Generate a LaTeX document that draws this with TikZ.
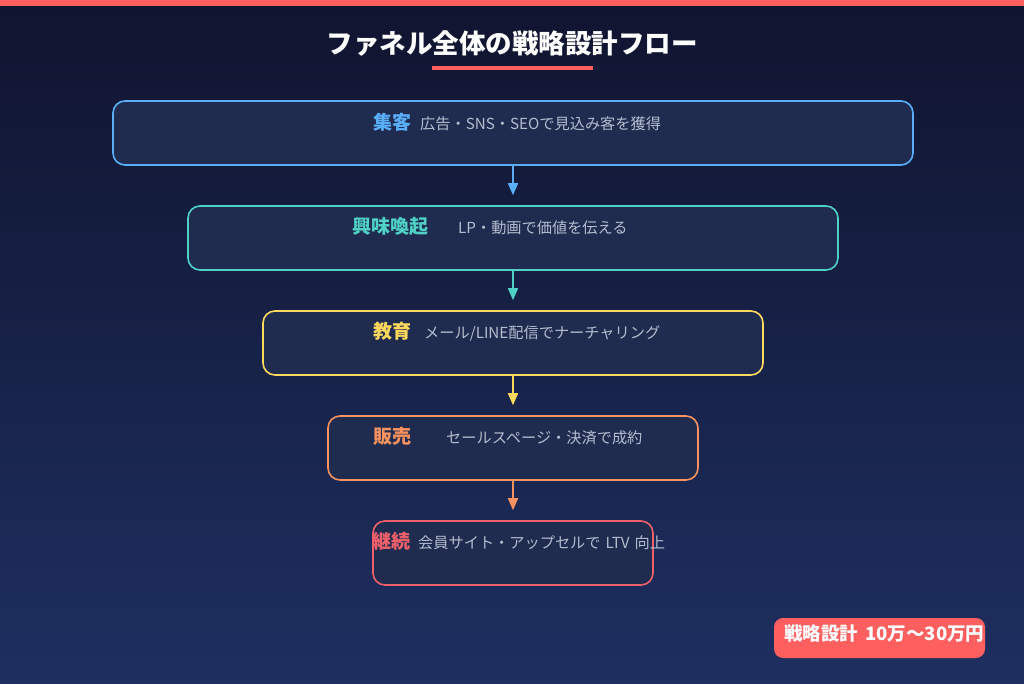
\documentclass[tikz,border=0pt]{standalone}
\usepackage{fontspec}
\setmainfont{Noto Sans CJK JP}
\usetikzlibrary{arrows.meta}
\definecolor{bgtop}{HTML}{10142F}
\definecolor{bgbot}{HTML}{1E2F60}
\definecolor{boxfill}{HTML}{1F2C4F}
\definecolor{accent}{HTML}{FF5F5F}
\definecolor{cblue}{HTML}{5AAEF8}
\definecolor{cteal}{HTML}{4FD1C5}
\definecolor{cyellow}{HTML}{FFD85E}
\definecolor{corange}{HTML}{F9925F}
\definecolor{cred}{HTML}{F0606A}
\definecolor{desc}{HTML}{B4BCCE}
\tikzset{
  stagebox/.style={draw, fill=boxfill, line width=1.6pt, rounded corners=12pt, inner sep=0pt},
  lbl/.style={anchor=west, inner sep=0pt, font=\fontsize{19}{21}\selectfont\bfseries},
  dsc/.style={anchor=west, inner sep=0pt, text=desc, font=\fontsize{15.2}{18}\selectfont},
  arr/.style={line width=1.6pt, -{Triangle[width=10pt,length=12pt]}},
}
\begin{document}
\begin{tikzpicture}[x=1pt,y=-1pt]
\useasboundingbox (0,0) rectangle (1024,683);
\fill[top color=bgtop, bottom color=bgbot] (0,0) rectangle (1024,683);
\fill[accent] (0,0) rectangle (1024,6);
% title
\node[inner sep=0pt, text=white, font=\fontsize{26.5}{30}\selectfont\bfseries] (title) at (512,44) {ファネル全体の戦略設計フロー};
\fill[accent] (432,66) rectangle (593,70);
% boxes
\node[stagebox, draw=cblue, minimum width=800pt, minimum height=64pt] (b1) at (513,133) {};
\node[stagebox, draw=cteal, minimum width=650pt, minimum height=64pt] (b2) at (513,238) {};
\node[stagebox, draw=cyellow, minimum width=500pt, minimum height=64pt] (b3) at (513,343) {};
\node[stagebox, draw=corange, minimum width=370pt, minimum height=64pt] (b4) at (513,448) {};
\node[stagebox, draw=cred, minimum width=280pt, minimum height=64pt] (b5) at (513,553) {};
% labels
\node[lbl, text=cblue] (l1) at (373,122) {集客};
\node[dsc] (d1) at (420,124) {広告・SNS・SEOで見込み客を獲得};
\node[lbl, text=cteal] (l2) at (352,226) {興味喚起};
\node[dsc] (d2) at (458,228) {LP・動画で価値を伝える};
\node[lbl, text=cyellow] (l3) at (373,331) {教育};
\node[dsc] (d3) at (424,333) {メール/LINE配信でナーチャリング};
\node[lbl, text=corange] (l4) at (373,436) {販売};
\node[dsc] (d4) at (446,438) {セールスページ・決済で成約};
\node[lbl, text=cred] (l5) at (372,541) {継続};
\node[dsc] (d5) at (418,543) {会員サイト・アップセルで\hspace{5pt}LTV\hspace{5pt}向上};
% arrows
\draw[arr, cblue] (b1.south) -- ([yshift=10pt]b2.north);
\draw[arr, cteal] (b2.south) -- ([yshift=10pt]b3.north);
\draw[arr, cyellow] (b3.south) -- ([yshift=10pt]b4.north);
\draw[arr, corange] (b4.south) -- ([yshift=10pt]b5.north);
% badge
\fill[accent, rounded corners=9pt] (774,618) rectangle (985,658);
\node[anchor=west, inner sep=0pt, text=white, font=\fontsize{18.5}{21}\selectfont\bfseries] (badge) at (784,633) {戦略設計\hspace{7pt}10万〜30万円};
\end{tikzpicture}
\end{document}
